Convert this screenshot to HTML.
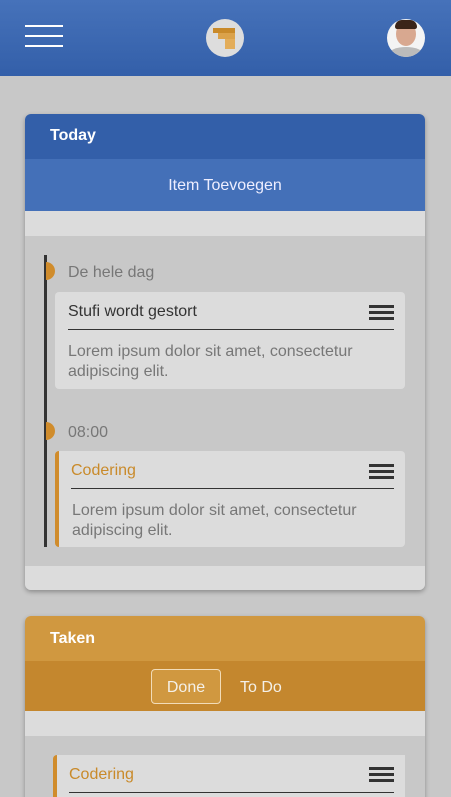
<!DOCTYPE html>
<html><head><meta charset="utf-8"><style>
*{margin:0;padding:0;box-sizing:border-box}
html,body{width:451px;height:797px;overflow:hidden}
body{background:#c8c8c8;font-family:"Liberation Sans","DejaVu Sans",sans-serif;position:relative}
.a{position:absolute}
.hdr{left:0;top:0;width:451px;height:76px;background:linear-gradient(#4672ba,#335fa9)}
.hl{left:25px;width:38px;height:2px;background:#fff}
.card{left:25px;width:400px;border-radius:6px;overflow:hidden;box-shadow:0 2px 5px rgba(0,0,0,.3)}
.item{background:#dcdcdc;border-radius:4px}
.burg{width:25px;height:3px;background:#333}
.t{font-size:16px;white-space:nowrap}
</style></head><body>
<div class="a hdr"></div>
<div class="a hl" style="top:25px"></div>
<div class="a hl" style="top:35px"></div>
<div class="a hl" style="top:45px"></div>
<div class="a" style="left:206px;top:19px;width:38px;height:38px;border-radius:50%;background:#ddd"></div>
<div class="a" style="left:213px;top:28px;width:22px;height:5px;background:#c98a2a"></div>
<div class="a" style="left:218px;top:33px;width:17px;height:6px;background:#dba24a"></div>
<div class="a" style="left:225px;top:39px;width:10px;height:10px;background:#e3ad5a"></div>
<div class="a" style="left:387px;top:19px;width:38px;height:38px;border-radius:50%;background:#f4f4f4;overflow:hidden">
<div class="a" style="left:9px;top:3px;width:20px;height:24px;border-radius:50%;background:#d8a890"></div>
<div class="a" style="left:8px;top:1px;width:22px;height:9px;border-radius:10px 10px 3px 3px;background:#3a2418"></div>
<div class="a" style="left:2px;top:28px;width:34px;height:14px;border-radius:50% 50% 0 0;background:#bbb"></div>
</div>

<div class="a card" style="top:114px;height:476px;background:#c8c8c8">
<div class="a" style="left:0;top:0;width:400px;height:45px;background:#335fa9"></div>
<div class="a t" style="left:25px;top:13px;color:#fff;font-weight:bold;font-size:16px">Today</div>
<div class="a" style="left:0;top:45px;width:400px;height:52px;background:#4470b8"></div>
<div class="a t" style="left:0;top:63px;width:400px;text-align:center;color:#eef">Item Toevoegen</div>
<div class="a" style="left:0;top:97px;width:400px;height:25px;background:#dcdcdc"></div>
<div class="a" style="left:0;top:452px;width:400px;height:24px;background:#dcdcdc"></div>
</div>
<div class="a" style="left:44px;top:255px;width:3px;height:292px;background:#333"></div>
<div class="a" style="left:46px;top:262px;width:9px;height:18px;border-radius:0 9px 9px 0;background:#d08c2c"></div>
<div class="a t" style="left:68px;top:264px;color:#777">De hele dag</div>
<div class="a item" style="left:55px;top:292px;width:350px;height:97px"></div>
<div class="a t" style="left:68px;top:303px;color:#333">Stufi wordt gestort</div>
<div class="a burg" style="left:369px;top:305px"></div><div class="a burg" style="left:369px;top:311px"></div><div class="a burg" style="left:369px;top:317px"></div>
<div class="a" style="left:68px;top:329px;width:326px;height:1px;background:#333"></div>
<div class="a t" style="left:68px;top:342px;color:#777;line-height:20px">Lorem ipsum dolor sit amet, consectetur<br>adipiscing elit.</div>

<div class="a" style="left:46px;top:422px;width:9px;height:18px;border-radius:0 9px 9px 0;background:#d08c2c"></div>
<div class="a t" style="left:68px;top:424px;color:#777">08:00</div>
<div class="a item" style="left:55px;top:451px;width:350px;height:96px;border-left:4px solid #d08c2c"></div>
<div class="a t" style="left:71px;top:462px;color:#c98a2a">Codering</div>
<div class="a burg" style="left:369px;top:464px"></div><div class="a burg" style="left:369px;top:470px"></div><div class="a burg" style="left:369px;top:476px"></div>
<div class="a" style="left:71px;top:488px;width:323px;height:1px;background:#333"></div>
<div class="a t" style="left:72px;top:501px;color:#777;line-height:20px">Lorem ipsum dolor sit amet, consectetur<br>adipiscing elit.</div>

<div class="a card" style="top:616px;height:200px;background:#c8c8c8;border-radius:6px 6px 0 0">
<div class="a" style="left:0;top:0;width:400px;height:45px;background:#d09840"></div>
<div class="a t" style="left:25px;top:14px;color:#fff;font-weight:bold">Taken</div>
<div class="a" style="left:0;top:45px;width:400px;height:50px;background:#c4872e"></div>
<div class="a" style="left:126px;top:53px;width:70px;height:35px;border:1px solid #f2dcb8;border-radius:4px;background:#d09840"></div>
<div class="a t" style="left:126px;top:63px;width:70px;text-align:center;color:#f4f0e8">Done</div>
<div class="a t" style="left:215px;top:63px;color:#f4f0e8">To Do</div>
<div class="a" style="left:0;top:95px;width:400px;height:25px;background:#dcdcdc"></div>
</div>
<div class="a" style="left:53px;top:755px;width:352px;height:60px;background:#dcdcdc;border-left:4px solid #d08c2c;border-radius:4px 0 0 0"></div>
<div class="a t" style="left:69px;top:766px;color:#c98a2a">Codering</div>
<div class="a burg" style="left:369px;top:767px"></div><div class="a burg" style="left:369px;top:773px"></div><div class="a burg" style="left:369px;top:779px"></div>
<div class="a" style="left:69px;top:792px;width:325px;height:1px;background:#333"></div>
</body></html>
